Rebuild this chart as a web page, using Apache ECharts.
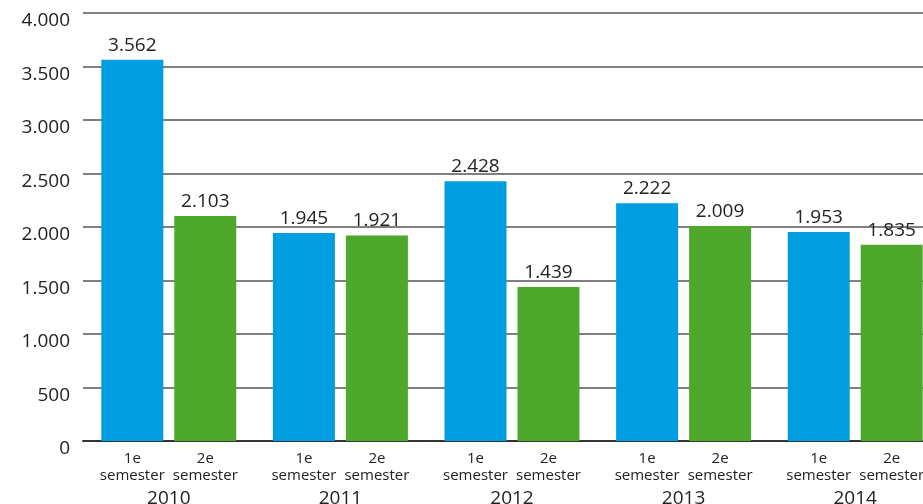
<!DOCTYPE html>
<html>
<head>
<meta charset="utf-8">
<script src="https://cdn.jsdelivr.net/npm/echarts@6/dist/echarts.min.js"></script>
<style>html,body{margin:0;padding:0;background:#fff}#c{width:923px;height:504px}</style>
</head>
<body>
<div id="c"></div>
<script>
var years = ['2010', '2011', '2012', '2013', '2014'];
var semesterLabels = ['1e', '2e'];
var semester1 = [3562, 1945, 2428, 2222, 1953];
var semester2 = [2103, 1921, 1439, 2009, 1835];
var yTicks = [0, 500, 1000, 1500, 2000, 2500, 3000, 3500, 4000];

function fmt(v) {
  var s = String(Math.round(v));
  return s.replace(/\B(?=(\d{3})+(?!\d))/g, '.');
}

var FONT = '"Open Sans", sans-serif';
var TXT = '#222';

var chart = echarts.init(document.getElementById('c'), null, {renderer: 'canvas'});
chart.setOption({
  animation: false,
  textStyle: {fontFamily: FONT, color: TXT},
  grid: {left: 83, right: -18, top: 13, bottom: 63, containLabel: false, outerBoundsMode: 'none'},
  xAxis: {
    type: 'category',
    data: years,
    axisLine: {lineStyle: {color: '#333', width: 2}},
    axisTick: {show: false},
    axisLabel: {
      margin: 9,
      interval: 0,
      formatter: function (v) {
        return '{s|' + semesterLabels[0] + '}{s|' + semesterLabels[1] + '}\n{s|semester}{s|semester}\n{y|' + v + '}';
      },
      rich: {
        s: {width: 73, align: 'center', fontSize: 15, lineHeight: 17, color: TXT, fontFamily: FONT},
        y: {align: 'center', fontSize: 19, lineHeight: 26, color: TXT, fontFamily: FONT, padding: [3, 0, 0, 0]}
      }
    }
  },
  yAxis: {
    type: 'value',
    min: yTicks[0],
    max: yTicks[yTicks.length - 1],
    interval: 500,
    axisLine: {show: false},
    axisTick: {show: false},
    axisLabel: {margin: 13, fontSize: 19, color: TXT, fontFamily: FONT, formatter: fmt, verticalAlign: 'top', lineHeight: 16},
    splitLine: {lineStyle: {color: '#555', width: 1.5}}
  },
  series: [
    {
      type: 'bar',
      name: '1e semester',
      data: semester1,
      barWidth: 62,
      barGap: '17.7%',
      itemStyle: {color: '#009EE0'},
      label: {show: true, position: 'top', distance: 5, fontSize: 19, color: TXT, fontFamily: FONT, formatter: function (p) { return fmt(p.value); }}
    },
    {
      type: 'bar',
      name: '2e semester',
      data: semester2,
      barWidth: 62,
      barGap: '17.7%',
      itemStyle: {color: '#4DA82C'},
      label: {show: true, position: 'top', distance: 5, fontSize: 19, color: TXT, fontFamily: FONT, formatter: function (p) { return fmt(p.value); }}
    }
  ]
});
</script>
</body>
</html>
